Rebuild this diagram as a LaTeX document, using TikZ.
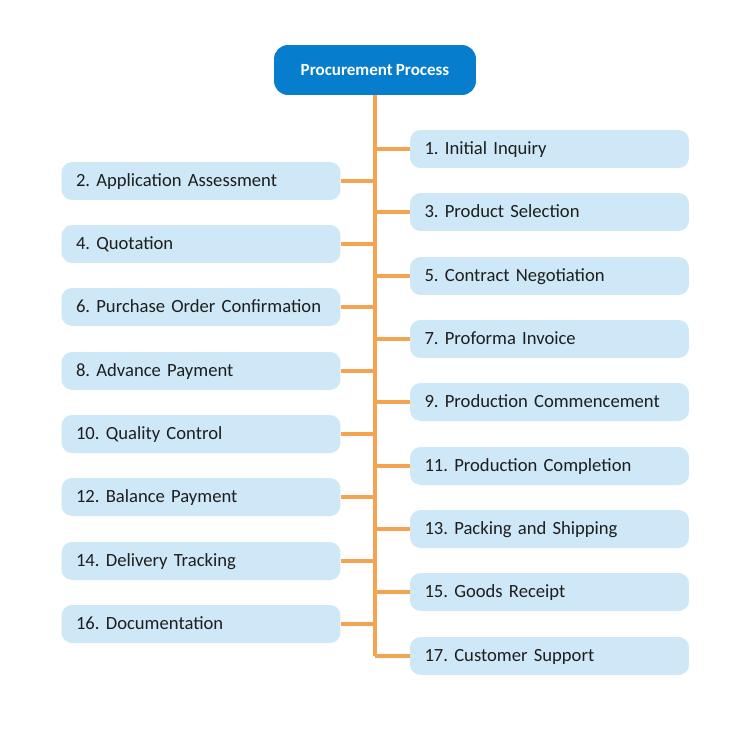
\documentclass[tikz,border=0pt]{standalone}
\usepackage{fontspec}
\setmainfont[WordSpace=0.8]{Carlito}
\usetikzlibrary{calc}
\frenchspacing

\definecolor{headblue}{RGB}{6,125,205}
\definecolor{itemblue}{RGB}{207,232,247}
\definecolor{linkorange}{RGB}{244,164,80}
\definecolor{itemtext}{RGB}{30,30,30}

\tikzset{
  head/.style={fill=headblue,text=white,rounded corners=8pt,minimum width=4.04cm,
    minimum height=1cm,font=\fontsize{9.7}{11}\selectfont\bfseries},
  item/.style={fill=itemblue,text=itemtext,rounded corners=6pt,minimum width=5.58cm,
    text width=5.0cm,align=left,minimum height=0.76cm,text height=1.5ex,text depth=0.15ex,
    font=\fontsize{10.6}{12}\selectfont},
  link/.style={draw=linkorange,line width=1.9pt}
}

\begin{document}
\begin{tikzpicture}[x=0.02cm,y=-0.02cm]
\useasboundingbox (0,0) rectangle (750,750);
\fill[white] (0,0) rectangle (750,750);

\node[head] (title) at (375,70) {Procurement Process};

% right column, odd steps
\foreach \n/\y/\txt in {1/149/Initial Inquiry,3/212/Product Selection,
  5/276/Contract Negotiation,7/339/Proforma Invoice,9/402/Production Commencement,
  11/466/Production Completion,13/529/Packing and Shipping,15/592/Goods Receipt,
  17/656/Customer Support}
  \node[item] (s\n) at (549.5,\y) {\n. \txt};

% left column, even steps
\foreach \n/\y/\txt in {2/181/Application Assessment,4/244/Quotation,
  6/307/Purchase Order Confirmation,8/371/Advance Payment,10/434/Quality Control,
  12/497/Balance Payment,14/561/Delivery Tracking,16/624/Documentation}
  \node[item] (s\n) at (201,\y) {\n. \txt};

\coordinate (trunkend) at (s17.west -| title.south);
\draw[link] (title.south) -- (trunkend);

\foreach \n in {1,3,...,17}
  \draw[link] (s\n.west) -- (s\n.west -| title.south);
\foreach \n in {2,4,...,16}
  \draw[link] (s\n.east) -- (s\n.east -| title.south);

\end{tikzpicture}
\end{document}
